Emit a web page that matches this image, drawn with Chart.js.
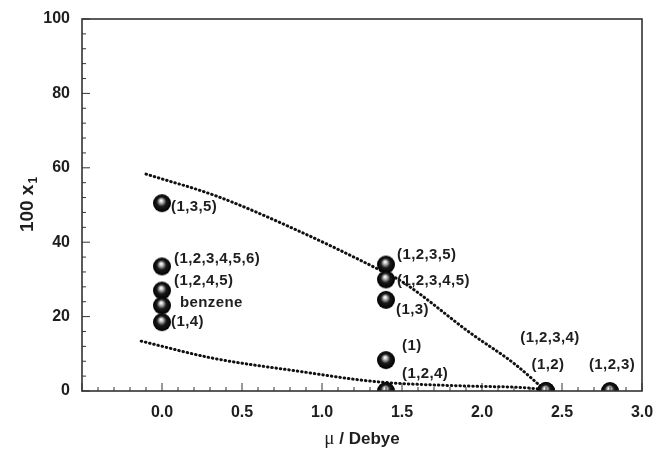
<!DOCTYPE html>
<html>
<head>
<meta charset="utf-8">
<script src="https://cdn.jsdelivr.net/npm/chart.js@4/dist/chart.umd.min.js"></script>
<style>
html,body{margin:0;padding:0;background:#fff;}
#wrap{width:656px;height:453px;}
</style>
</head>
<body>
<div id="wrap"><canvas id="c" width="656" height="453"></canvas></div>
<script>
// ---- data ----
const compounds = ['(1,3,5)', '(1,2,3,4,5,6)', '(1,2,4,5)', 'benzene', '(1,4)',
                   '(1,2,3,5)', '(1,2,3,4,5)', '(1,3)', '(1)', '(1,2,4)',
                   '(1,2,3,4)', '(1,2)', '(1,2,3)'];
const dipoleMoment = [0, 0, 0, 0, 0, 1.4, 1.4, 1.4, 1.4, 1.4, 2.4, 2.4, 2.8];
const moleFraction100 = [50.5, 33.5, 27, 23, 18.5, 34, 30, 24.5, 8.3, 0, 0, 0, 0];

const upperCurveMu = [-0.1, 0.34, 0.84, 1.34, 1.5, 1.93, 2.2, 2.4];
const upperCurveX1 = [58.3, 52.4, 43.3, 33.0, 29.4, 15.5, 7.4, 0];
const lowerCurveMu = [-0.13, 0.32, 0.84, 1.34, 1.93, 2.34, 2.4];
const lowerCurveX1 = [13.4, 8.8, 5.4, 2.5, 1.3, 0.6, 0];

const xTickValues = [0.0, 0.5, 1.0, 1.5, 2.0, 2.5, 3.0];
const yTickValues = [0, 20, 40, 60, 80, 100];

// ---- styling (label offsets in px, relative to each marker) ----
const labelStyle = [
  {dx: 9, dy: 4, align: 'left'},
  {dx: 12, dy: -8, align: 'left'},
  {dx: 12, dy: -10, align: 'left'},
  {dx: 18, dy: -3, align: 'left'},
  {dx: 9, dy: 0, align: 'left'},
  {dx: 11, dy: -10, align: 'left'},
  {dx: 11, dy: 1, align: 'left'},
  {dx: 10, dy: 10, align: 'left'},
  {dx: 16, dy: -14, align: 'left'},
  {dx: 16, dy: -17, align: 'left'},
  {dx: 4, dy: -53, align: 'center'},
  {dx: 2, dy: -26, align: 'center'},
  {dx: 2, dy: -26, align: 'center'}
];

function makeBall(r) {
  const c = document.createElement('canvas');
  const s = 2 * r + 2;
  c.width = c.height = s;
  const g = c.getContext('2d');
  const cx = s / 2, cy = s / 2;
  const grad = g.createRadialGradient(cx - r * 0.1, cy - r * 0.3, r * 0.05, cx, cy, r);
  grad.addColorStop(0, '#ffffff');
  grad.addColorStop(0.2, '#b0b0b0');
  grad.addColorStop(0.5, '#1a1a1a');
  grad.addColorStop(1, '#000000');
  g.fillStyle = grad;
  g.beginPath();
  g.arc(cx, cy, r, 0, Math.PI * 2);
  g.fill();
  return c;
}
const ball = makeBall(9);

const AXIS = '#333333';
const TXT = '#1e1e1e';

const decorPlugin = {
  id: 'decor',
  afterDatasetsDraw(chart) {
    const ctx = chart.ctx;
    const a = chart.chartArea;
    const xs = chart.scales.x, ys = chart.scales.y;
    ctx.save();
    // frame
    ctx.strokeStyle = AXIS;
    ctx.lineWidth = 1.6;
    ctx.strokeRect(a.left, a.top, a.right - a.left, a.bottom - a.top);
    // x ticks (inward)
    ctx.lineWidth = 1;
    for (let i = -5; i <= 30; i++) {
      const v = i / 10;
      const px = xs.getPixelForValue(v);
      const major = (i % 5 === 0);
      const len = major ? 8 : 4;
      ctx.beginPath();
      ctx.moveTo(px, a.bottom);
      ctx.lineTo(px, a.bottom - len);
      ctx.stroke();
    }
    // y ticks (inward)
    for (let v = 0; v <= 100; v += 4) {
      const py = ys.getPixelForValue(v);
      const major = (v % 20 === 0);
      const len = major ? 8 : 4;
      ctx.beginPath();
      ctx.moveTo(a.left, py);
      ctx.lineTo(a.left + len, py);
      ctx.stroke();
    }
    // point labels
    const meta = chart.getDatasetMeta(0);
    ctx.fillStyle = TXT;
    ctx.font = 'bold 15px "Liberation Sans", Arial, sans-serif';
    try { ctx.letterSpacing = '0.4px'; } catch (e) {}
    ctx.textBaseline = 'middle';
    meta.data.forEach((el, i) => {
      const st = labelStyle[i];
      ctx.textAlign = st.align;
      ctx.fillText(compounds[i], el.x + st.dx, el.y + st.dy);
    });
    try { ctx.letterSpacing = '0px'; } catch (e) {}
    // x title
    const cx = (a.left + a.right) / 2;
    const ty = 438;
    const muFont = '19px "Liberation Serif", "DejaVu Serif", serif';
    const restFont = 'bold 17px "Liberation Sans", Arial, sans-serif';
    ctx.font = muFont;
    const wMu = ctx.measureText('\u03bc').width;
    ctx.font = restFont;
    const rest = ' / Debye';
    const wRest = ctx.measureText(rest).width;
    let x0 = cx - (wMu + wRest) / 2;
    ctx.textAlign = 'left';
    ctx.textBaseline = 'alphabetic';
    ctx.font = muFont;
    ctx.fillText('\u03bc', x0, ty + 6);
    ctx.font = restFont;
    ctx.fillText(rest, x0 + wMu, ty + 6);
    // y title (rotated, with subscript)
    ctx.translate(26, (a.top + a.bottom) / 2);
    ctx.rotate(-Math.PI / 2);
    const mainFont = 'bold 19px "Liberation Sans", Arial, sans-serif';
    const subFont = 'bold 12px "Liberation Sans", Arial, sans-serif';
    ctx.font = mainFont;
    const wMain = ctx.measureText('100 x').width;
    ctx.font = subFont;
    const wSub = ctx.measureText('1').width;
    const sx = -(wMain + wSub) / 2;
    ctx.font = mainFont;
    ctx.fillText('100 x', sx, 7);
    ctx.font = subFont;
    ctx.fillText('1', sx + wMain + 1, 11);
    ctx.restore();
  }
};

const chart = new Chart(document.getElementById('c'), {
  type: 'scatter',
  data: {
    datasets: [
      {
        label: 'compounds',
        data: dipoleMoment.map((m, i) => ({x: m, y: moleFraction100[i]})),
        pointStyle: ball,
        showLine: false
      },
      {
        label: 'upper',
        data: upperCurveMu.map((m, i) => ({x: m, y: upperCurveX1[i]})),
        showLine: true,
        pointRadius: 0,
        borderColor: '#111',
        borderWidth: 3,
        borderDash: [0.5, 3.8],
        borderCapStyle: 'round',
        cubicInterpolationMode: 'monotone',
        fill: false
      },
      {
        label: 'lower',
        data: lowerCurveMu.map((m, i) => ({x: m, y: lowerCurveX1[i]})),
        showLine: true,
        pointRadius: 0,
        borderColor: '#111',
        borderWidth: 3,
        borderDash: [0.5, 3.8],
        borderCapStyle: 'round',
        cubicInterpolationMode: 'monotone',
        fill: false
      }
    ]
  },
  options: {
    responsive: false,
    animation: false,
    events: [],
    layout: {padding: {left: 0, right: 14, top: 19, bottom: 0}},
    plugins: {legend: {display: false}, tooltip: {enabled: false}},
    scales: {
      x: {
        type: 'linear',
        min: -0.5, max: 3.0,
        afterBuildTicks: s => { s.ticks = xTickValues.map(v => ({value: v})); },
        afterFit: s => { s.height = 62; s.paddingLeft = 0; s.paddingRight = 0; },
        grid: {display: false, drawTicks: false},
        border: {display: false},
        ticks: {
          padding: 12,
          color: TXT,
          font: {family: '"Liberation Sans", Arial, sans-serif', size: 16, weight: 'bold'},
          callback: v => Number(v).toFixed(1),
          maxRotation: 0, autoSkip: false
        }
      },
      y: {
        type: 'linear',
        min: 0, max: 100,
        afterBuildTicks: s => { s.ticks = yTickValues.map(v => ({value: v})); },
        afterFit: s => { s.width = 82; s.paddingTop = 0; s.paddingBottom = 0; },
        grid: {display: false, drawTicks: false},
        border: {display: false},
        ticks: {
          padding: 12,
          color: TXT,
          font: {family: '"Liberation Sans", Arial, sans-serif', size: 16, weight: 'bold'},
          autoSkip: false
        }
      }
    }
  },
  plugins: [decorPlugin]
});
</script>
</body>
</html>
